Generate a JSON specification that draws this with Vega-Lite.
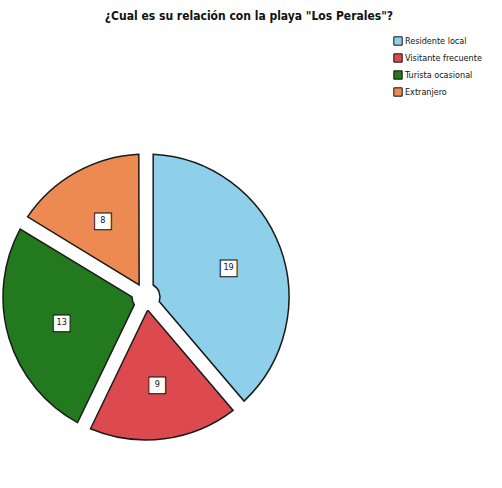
{
  "$schema": "https://vega.github.io/schema/vega-lite/v6.json",
  "width": 290,
  "height": 384,
  "padding": {"left": 0, "top": 10, "right": 0, "bottom": 0},
  "autosize": {"type": "pad"},
  "background": "white",
  "title": {
    "text": "¿Cual es su relación con la playa \"Los Perales\"?",
    "anchor": "middle",
    "frame": "bounds",
    "font": "DejaVu Sans Condensed, Liberation Sans",
    "fontSize": 12,
    "fontWeight": "bold",
    "color": "#111111",
    "offset": 13,
    "dx": 8
  },
  "data": {
    "values": [
      {"n": 1, "categoria": "Residente local", "valor": 19},
      {"n": 2, "categoria": "Visitante frecuente", "valor": 9},
      {"n": 3, "categoria": "Turista ocasional", "valor": 13},
      {"n": 4, "categoria": "Extranjero", "valor": 8}
    ]
  },
  "encoding": {
    "theta": {"field": "valor", "type": "quantitative", "stack": true},
    "order": {"field": "n", "type": "quantitative"}
  },
  "layer": [
    {
      "mark": {"type": "arc", "innerRadius": 14, "outerRadius": 143, "padAngle": 0.1, "stroke": "#1a1a1a", "strokeWidth": 1.5},
      "encoding": {
        "color": {
          "field": "categoria",
          "type": "nominal",
          "scale": {
            "domain": ["Residente local", "Visitante frecuente", "Turista ocasional", "Extranjero"],
            "range": ["#8ecfea", "#dc4a50", "#237a1e", "#ec8a52"]
          },
          "legend": {
            "title": null,
            "orient": "none",
            "legendX": 392,
            "legendY": -69,
            "symbolType": "square",
            "symbolSize": 70,
            "symbolStrokeColor": "#111111",
            "symbolStrokeWidth": 1,
            "labelFont": "DejaVu Sans Condensed, Liberation Sans",
            "labelFontSize": 9,
            "labelColor": "#111111",
            "labelLimit": 110,
            "rowPadding": 3,
            "labelOffset": 2
          }
        }
      }
    },
    {
      "mark": {"type": "text", "radius": 88, "text": "■", "fontSize": 22, "fill": "white", "stroke": "#111111", "strokeWidth": 1, "font": "DejaVu Sans"}
    },
    {
      "mark": {"type": "text", "radius": 88, "fontSize": 9, "font": "DejaVu Sans Condensed, Liberation Sans", "color": "#111111"},
      "encoding": {"text": {"field": "valor", "type": "quantitative"}}
    }
  ]
}
